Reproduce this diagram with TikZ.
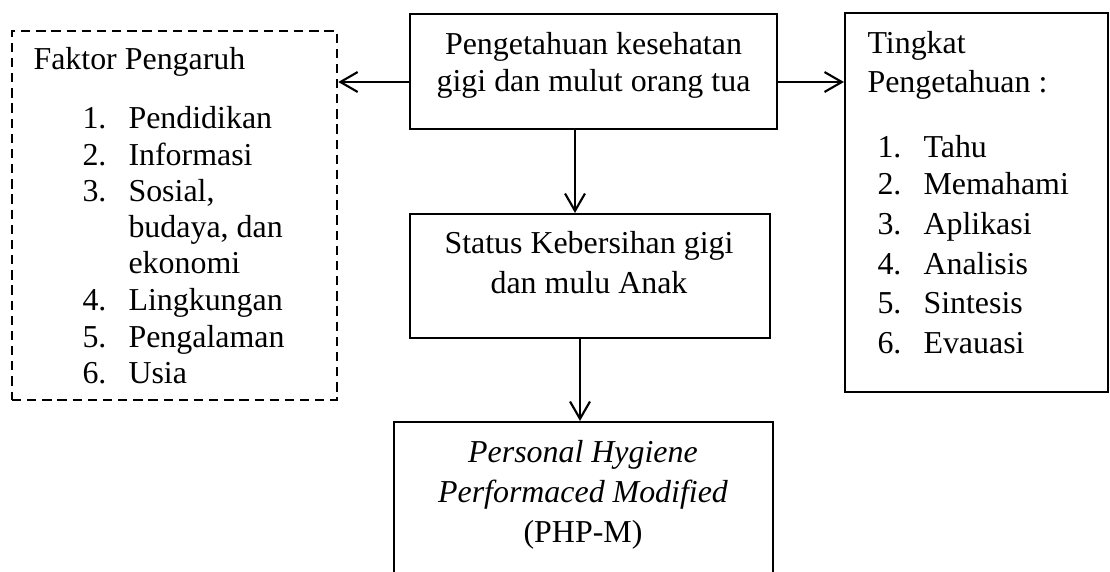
\documentclass[tikz,border=0pt]{standalone}
\usepackage{fontspec}
\setmainfont{Liberation Serif}
\usetikzlibrary{arrows.meta}
\def\pxl{0.376pt}
\tikzset{
    box/.style={draw, line width=0.8pt, rectangle, inner sep=0pt},
    dashbox/.style={box, line width=0.95pt, dash pattern=on 3.5pt off 2.2pt},
    txt/.style={inner sep=0pt, anchor=base west, font=\fontsize{12}{14}\selectfont},
    ctxt/.style={txt, anchor=base},
    link/.style={->, line width=0.8pt},
}
\begin{document}
\begin{tikzpicture}[x=\pxl, y=-\pxl, >={Straight Barb[length=6.5pt,width=7.5pt]}]
        \useasboundingbox (0,0) rectangle (1110,571);
        \clip (0,0) rectangle (1110,571);
        % boxes
        \node [dashbox, minimum width=325*\pxl, minimum height=369*\pxl] (0) at (174.5,215.5) {};
        \node [box, minimum width=367*\pxl, minimum height=115*\pxl] (1) at (593.5,71.5) {};
        \node [box, minimum width=263*\pxl, minimum height=379*\pxl] (2) at (976.5,202.5) {};
        \node [box, minimum width=360*\pxl, minimum height=124*\pxl] (3) at (590,276) {};
        \node [box, minimum width=379*\pxl, minimum height=198*\pxl] (4) at (583.5,521) {};
        % top box
        \node [ctxt] (5) at (593.5,54) {Pengetahuan kesehatan};
        \node [ctxt] (6) at (593.5,91) {gigi dan mulut orang tua};
        % left box
        \node [txt] (7) at (33,69) {Faktor Pengaruh};
        \node [txt] (8) at (82,128) {1.};
        \node [txt] (9) at (128,128) {Pendidikan};
        \node [txt] (10) at (82,165) {2.};
        \node [txt] (11) at (128,165) {Informasi};
        \node [txt] (12) at (82,201) {3.};
        \node [txt] (13) at (128,201) {Sosial,};
        \node [txt] (14) at (128,237) {budaya, dan};
        \node [txt] (15) at (128,273) {ekonomi};
        \node [txt] (16) at (82,310) {4.};
        \node [txt] (17) at (128,310) {Lingkungan};
        \node [txt] (18) at (82,347) {5.};
        \node [txt] (19) at (128,347) {Pengalaman};
        \node [txt] (20) at (82,383) {6.};
        \node [txt] (21) at (128,383) {Usia};
        % right box
        \node [txt] (22) at (867,53) {Tingkat};
        \node [txt] (23) at (867,92) {Pengetahuan :};
        \node [txt] (24) at (877,157) {1.};
        \node [txt] (25) at (923,157) {Tahu};
        \node [txt] (26) at (877,194) {2.};
        \node [txt] (27) at (923,194) {Memahami};
        \node [txt] (28) at (877,234) {3.};
        \node [txt] (29) at (923,234) {Aplikasi};
        \node [txt] (30) at (877,274) {4.};
        \node [txt] (31) at (923,274) {Analisis};
        \node [txt] (32) at (877,313) {5.};
        \node [txt] (33) at (923,313) {Sintesis};
        \node [txt] (34) at (877,353) {6.};
        \node [txt] (35) at (923,353) {Evauasi};
        % middle box
        \node [ctxt] (36) at (589,253) {Status Kebersihan gigi};
        \node [ctxt] (37) at (589,293) {dan mulu Anak};
        % bottom box
        \node [ctxt] (38) at (583,462) {\itshape Personal Hygiene};
        \node [ctxt] (39) at (583,502) {\itshape Performaced Modified};
        \node [ctxt] (40) at (583,542) {(PHP-M)};
        % arrows
        \draw [link] (1.west |- 0,82) -- (0.east |- 0,82);
        \draw [link] (1.east |- 0,82) -- (2.west |- 0,82);
        \draw [link] (1.south -| 575,0) -- (3.north -| 575,0);
        \draw [link] (3.south -| 580,0) -- (4.north -| 580,0);
\end{tikzpicture}
\end{document}
